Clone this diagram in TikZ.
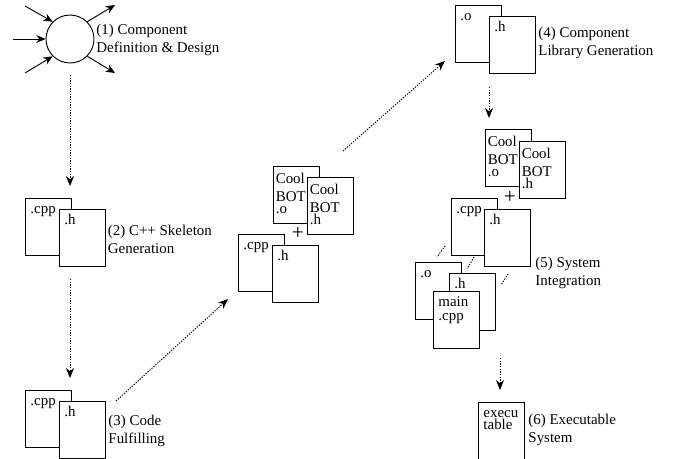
\documentclass[tikz,border=0pt]{standalone}
\usepackage{fontspec}
\setmainfont{Liberation Serif}
\usetikzlibrary{arrows.meta}

\begin{document}
\begin{tikzpicture}[x=0.75pt, y=-0.75pt, line width=0.7pt,
    every node/.style={font=\fontsize{11.2}{13.5}\selectfont},
    filebox/.style={draw, fill=white, anchor=north west, inner sep=0pt, align=left,
      text width=27pt, text height=11.25pt, text depth=31.5pt, minimum width=34.5pt},
    coolbox/.style={filebox, text width=31pt, text height=12.75pt, text depth=30pt},
    steplabel/.style={anchor=west, inner sep=0pt, align=left},
    plus/.style={inner sep=0pt, font=\fontsize{16}{16}\selectfont},
    solidarrow/.style={-{Stealth[length=7pt, width=6pt]}},
    flowarrow/.style={dash pattern=on 1pt off 1pt, -{Stealth[length=7.5pt, width=6pt]}},
    trail/.style={dash pattern=on 1pt off 1pt}]
  \useasboundingbox (0,0) rectangle (676,458);
  % free ends of the connectors
  \coordinate (inA) at (25,6);
  \coordinate (inB) at (13,39);
  \coordinate (inC) at (25,73);
  \coordinate (outA) at (115,5);
  \coordinate (outB) at (115,73);
  \coordinate (flowAs) at (70,75);
  \coordinate (flowAe) at (70,186);
  \coordinate (flowBs) at (70,279);
  \coordinate (flowBe) at (70,378);
  \coordinate (flowCs) at (116,401);
  \coordinate (flowCe) at (228,299);
  \coordinate (flowDs) at (343,151);
  \coordinate (flowDe) at (445,61);
  \coordinate (flowEs) at (489,87);
  \coordinate (flowEe) at (489,118);
  \coordinate (flowFs) at (500,358);
  \coordinate (flowFe) at (500,390);
  \coordinate (trailAs) at (445,246);
  \coordinate (trailAe) at (437,257);
  \coordinate (trailBs) at (474,257);
  \coordinate (trailBe) at (467,269);
  \coordinate (trailCs) at (508,274);
  \coordinate (trailCe) at (501,285);
  % step 1: the circle and its arrows
  \node[circle, draw, minimum size=36pt, inner sep=0pt] (design) at (70,39) {};
  \draw[solidarrow] (inA) -- (design.135);
  \draw[solidarrow] (inB) -- (design.180);
  \draw[solidarrow] (inC) -- (design.225);
  \draw[solidarrow] (design.45) -- (outA);
  \draw[solidarrow] (design.-45) -- (outB);
  \node[steplabel] (labelA) at (96,40) {(1) Component\\Definition \& Design};
  % step 2
  \node[filebox] (cppB) at (25,198) {.cpp};
  \node[filebox] (hB) at (59,209) {.h};
  \node[steplabel] (labelB) at (107.5,239) {(2) C++ Skeleton\\Generation};
  % step 3
  \node[filebox] (cppC) at (25,390) {.cpp};
  \node[filebox] (hC) at (59,401) {.h};
  \node[steplabel] (labelC) at (108,431) {(3) Code\\Fulfilling};
  % middle stack
  \node[coolbox] (coolOM) at (273,166) {Cool\\BOT\\[-4.7pt].o};
  \node[coolbox] (coolHM) at (307,177) {Cool\\BOT\\[-4.7pt].h};
  \node[filebox] (cppM) at (238,234) {.cpp};
  \node[filebox] (hM) at (272,245) {.h};
  \node[plus] (plusM) at (298,233) {+};
  % step 4
  \node[filebox] (objD) at (455,5) {.o};
  \node[filebox] (hD) at (489,16) {.h};
  \node[steplabel] (labelD) at (538,43) {(4) Component\\Library Generation};
  % step 5
  \node[coolbox] (coolOE) at (485,129) {Cool\\BOT\\[-4.7pt].o};
  \node[coolbox] (coolHE) at (519,141) {Cool\\BOT\\[-4.7pt].h};
  \node[filebox] (cppE) at (451,198) {.cpp};
  \node[filebox] (hE) at (484,209) {.h};
  \node[plus] (plusE) at (510,197) {+};
  \node[filebox] (objE) at (415,262) {.o};
  \node[filebox] (hEb) at (449,273) {.h};
  \node[filebox] (mainE) at (433,291) {main\\[-3pt].cpp};
  \node[steplabel] (labelE) at (535,273) {(5) System\\Integration};
  % step 6
  \node[filebox] (exeF) at (478,402) {execu\\[-4.5pt]table};
  \node[steplabel] (labelF) at (528,430) {(6) Executable\\System};
  % dotted arrows between the steps
  \draw[flowarrow] (flowAs) -- (flowAe);
  \draw[flowarrow] (flowBs) -- (flowBe);
  \draw[flowarrow] (flowCs) -- (flowCe);
  \draw[flowarrow] (flowDs) -- (flowDe);
  \draw[flowarrow] (flowEs) -- (flowEe);
  \draw[flowarrow] (flowFs) -- (flowFe);
  % short dotted trails
  \draw[trail] (trailAs) -- (trailAe);
  \draw[trail] (trailBs) -- (trailBe);
  \draw[trail] (trailCs) -- (trailCe);
\end{tikzpicture}
\end{document}
